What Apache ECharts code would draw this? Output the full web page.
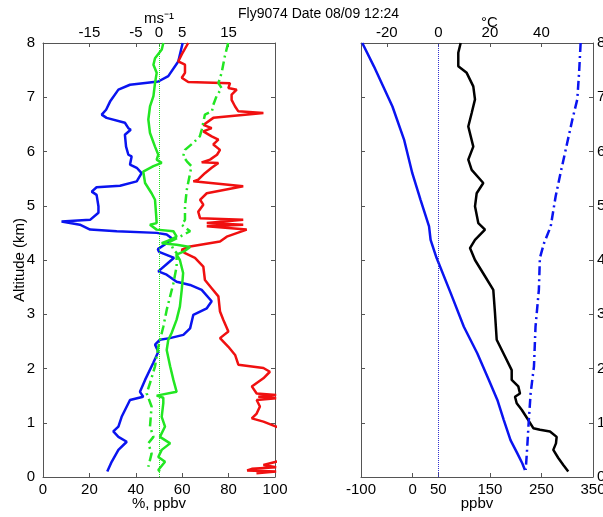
<!DOCTYPE html>
<html>
<head>
<meta charset="utf-8">
<script src="https://cdn.jsdelivr.net/npm/echarts@6/dist/echarts.min.js"></script>
<style>
  html, body { margin: 0; padding: 0; background: #fff; }
  #chart { width: 603px; height: 517px; }
</style>
</head>
<body>
<div id="chart"></div>
<script>
// 左图：相对湿度 %（蓝）、臭氧 ppbv（红）
const rhAlt = [8.0, 7.66, 7.39, 7.29, 7.23, 7.14, 6.92, 6.77, 6.68, 6.62, 6.53, 6.43, 6.40, 6.31, 6.09, 5.94, 5.91, 5.76, 5.70, 5.60, 5.45, 5.37, 5.34, 5.26, 5.20, 4.99, 4.87, 4.74, 4.71, 4.65, 4.56, 4.53, 4.50, 4.47, 4.40, 4.30, 4.20, 4.15, 4.04, 3.95, 3.79, 3.73, 3.60, 3.54, 3.45, 3.24, 3.11, 2.99, 2.74, 2.62, 2.56, 2.53, 2.44, 2.31, 2.10, 1.79, 1.57, 1.48, 1.42, 1.11, 0.93, 0.84, 0.74, 0.65, 0.50, 0.28, 0.10];
const rhVal = [60.2, 58.3, 54.0, 49.7, 37.5, 32.5, 28.9, 27.2, 25.3, 27.4, 35.3, 36.8, 37.8, 35.3, 35.8, 36.8, 38.2, 37.5, 40.4, 42.5, 40.4, 33.2, 23.1, 21.0, 23.1, 23.9, 23.9, 20.3, 8.0, 15.9, 20.3, 31.8, 49.0, 53.3, 55.5, 53.0, 49.5, 50.0, 56.5, 54.0, 49.7, 53.3, 57.6, 63.4, 68.4, 72.7, 70.6, 64.8, 63.4, 60.5, 54.7, 50.4, 48.3, 49.7, 47.5, 44.0, 41.8, 43.2, 37.5, 33.9, 32.5, 30.3, 32.5, 36.1, 32.5, 29.6, 27.7];

const o3Alt = [8.0, 7.79, 7.66, 7.60, 7.45, 7.36, 7.28, 7.26, 7.17, 7.14, 7.05, 6.95, 6.83, 6.74, 6.71, 6.62, 6.49, 6.43, 6.37, 6.28, 6.22, 6.13, 6.03, 5.94, 5.85, 5.80, 5.79, 5.70, 5.60, 5.48, 5.45, 5.36, 5.23, 5.11, 5.02, 4.89, 4.77, 4.74, 4.68, 4.65, 4.62, 4.56, 4.43, 4.34, 4.25, 4.19, 4.13, 4.04, 3.88, 3.63, 3.48, 3.33, 3.05, 2.90, 2.68, 2.56, 2.40, 2.25, 2.07, 2.01, 1.94, 1.82, 1.67, 1.54, 1.51, 1.48, 1.45, 1.42, 1.30, 1.17, 1.08, 1.02, 0.93, 0.85, 0.60, 0.40, 0.28, 0.22, 0.18, 0.15, 0.12, 0.10, 0.07];
const o3Val = [62.6, 59.8, 58.3, 61.2, 61.2, 59.8, 62.6, 80.6, 79.9, 83.5, 81.3, 81.3, 82.8, 84.2, 95.0, 73.4, 69.1, 72.7, 69.1, 72.7, 75.6, 73.4, 76.3, 75.0, 72.0, 68.4, 75.6, 72.7, 69.8, 66.9, 64.8, 86.3, 70.6, 67.7, 69.1, 66.9, 67.7, 86.3, 70.6, 86.3, 70.6, 87.8, 79.2, 76.3, 63.4, 59.8, 61.0, 65.5, 69.1, 69.8, 72.7, 75.6, 76.3, 77.7, 79.9, 76.3, 79.9, 82.8, 84.2, 95.0, 97.8, 95.0, 90.0, 92.1, 100.5, 92.8, 100.5, 92.1, 93.5, 92.1, 90.0, 95.0, 100.5, 106, 110, 106, 100.5, 95, 100.5, 90, 88, 100.5, 92];

// 风速 ms-1（绿色实线 / 点划线），画在上方坐标轴
const uAlt = [8.0, 7.88, 7.72, 7.60, 7.45, 7.26, 7.02, 6.83, 6.59, 6.34, 6.09, 5.94, 5.85, 5.79, 5.73, 5.63, 5.42, 5.23, 5.11, 4.87, 4.68, 4.65, 4.56, 4.53, 4.43, 4.37, 4.31, 4.28, 4.24, 4.17, 4.10, 4.00, 3.76, 3.45, 3.14, 2.90, 2.65, 2.53, 2.34, 2.04, 1.79, 1.57, 1.50, 1.46, 1.36, 1.11, 0.93, 0.74, 0.62, 0.50, 0.37, 0.28, 0.13, 0.10];
const uVal = [0.93, 0.6, -0.86, -1.2, -0.5, -0.86, -1.2, -1.94, -2.3, -1.94, -0.86, -0.15, -0.5, 0.58, -1.2, -3.4, -3.0, -1.6, -0.86, -0.65, -0.5, -1.94, -0.5, 3.1, 3.8, 2.4, 0.58, 3.8, 6.7, 5.6, 3.8, 4.5, 5.2, 4.9, 4.5, 3.8, 2.7, 2.0, 1.66, 2.4, 3.1, 3.8, -0.5, 0.93, 0.93, 0.58, 1.3, 0.2, 2.4, 0.58, -0.15, 1.3, -0.15, 0.2];

const vAlt = [8.0, 7.76, 7.45, 7.26, 7.17, 7.02, 6.86, 6.74, 6.68, 6.40, 6.28, 6.16, 6.03, 5.91, 5.82, 5.73, 5.60, 5.30, 4.99, 4.74, 4.65, 4.53, 4.43, 4.34, 4.19, 4.13, 3.88, 3.57, 3.33, 3.08, 2.77, 2.40, 2.04, 1.73, 1.54, 1.30, 0.93, 0.74, 0.62, 0.43, 0.19];
const vVal = [14.9, 14.2, 13.5, 12.8, 13.5, 12.4, 11.7, 11.4, 9.9, 9.2, 8.8, 7.4, 5.6, 5.2, 6.0, 7.0, 6.7, 6.0, 5.6, 5.6, 4.9, 6.7, 4.5, 2.4, 3.1, 3.8, 3.8, 3.1, 2.4, 1.66, 0.93, -0.15, -0.86, -1.94, -2.65, -1.6, -1.94, -1.2, -2.3, -1.6, -2.3];

// 右图：温度、位温 ºC（蓝），CO ppbv（黑）
const tAlt = [8.0, 7.57, 6.83, 6.22, 5.60, 5.11, 4.62, 4.37, 4.04, 3.39, 2.77, 2.28, 1.79, 1.42, 1.05, 0.68, 0.44, 0.25, 0.13];
const tVal = [-29.5, -25.0, -17.8, -13.3, -10.1, -6.9, -3.6, -3.0, -0.7, 4.8, 9.9, 15.1, 19.6, 22.9, 25.4, 28.0, 30.6, 32.6, 33.6];

const thetaAlt = [8.0, 7.45, 6.96, 6.59, 6.16, 5.60, 5.17, 4.62, 4.31, 4.04, 3.45, 2.77, 2.04, 1.54, 1.05, 0.56, 0.13];
const thetaVal = [55.2, 54.6, 53.9, 52.0, 50.0, 47.4, 45.5, 43.6, 41.0, 39.4, 39.0, 37.7, 37.1, 35.8, 35.1, 34.5, 33.9];

const coAlt = [8.0, 7.82, 7.57, 7.45, 7.20, 6.96, 6.71, 6.46, 6.09, 5.85, 5.66, 5.42, 5.23, 4.99, 4.68, 4.56, 4.37, 4.22, 4.00, 3.70, 3.45, 3.02, 2.53, 2.22, 1.97, 1.79, 1.67, 1.54, 1.48, 1.36, 1.24, 1.05, 0.90, 0.87, 0.84, 0.74, 0.62, 0.50, 0.35, 0.22, 0.10];
const coVal = [93.3, 88.7, 88.7, 105, 117.8, 121.1, 114.7, 108.1, 117.8, 108.1, 114.7, 137.2, 124.4, 121.1, 127.5, 140.5, 121.1, 111.4, 121.1, 140.5, 156.6, 159.9, 163.2, 179.3, 192.3, 192.3, 205.1, 208.4, 198.7, 202, 211.7, 224.5, 234.2, 247.2, 266.6, 279.5, 278.2, 273, 282.7, 292.4, 302];

// 坐标轴刻度
const pctTicks = [0, 20, 40, 60, 80, 100];
const windTicks = [-15, -5, 0, 5, 15];
const ppbvTicks = [-100, 0, 50, 150, 250, 350];
const degTicks = [-20, 0, 20, 40];

const FONT = "'Liberation Sans', Arial, sans-serif";
const AXIS_COLOR = '#555';

const pairs = (vals, alts) => vals.map((v, i) => [v, alts[i]]);

const baseAxis = (extra) => Object.assign({
  type: 'value',
  splitLine: { show: false },
  nameMoveOverlap: false,
  axisLine: { show: true, onZero: false, lineStyle: { color: AXIS_COLOR, width: 1 } },
  axisTick: { show: true, inside: true, length: 4, lineStyle: { color: AXIS_COLOR } },
  axisLabel: { color: '#000', fontSize: 15, fontFamily: FONT },
  nameTextStyle: { color: '#000', fontSize: 15, fontFamily: FONT }
}, extra);

const withCustom = (ax, ticks, margin) => {
  ax.axisTick = Object.assign({}, ax.axisTick, { customValues: ticks });
  ax.axisLabel = Object.assign({}, ax.axisLabel, { customValues: ticks, margin: margin });
  return ax;
};

const altAxis = (grid, pos, labels, extra) => baseAxis(Object.assign({
  gridIndex: grid, position: pos, min: 0, max: 8, interval: 1,
  axisLabel: { show: labels, color: '#000', fontSize: 15, fontFamily: FONT, margin: pos === 'left' ? 8 : 4 }
}, extra));

const profile = (name, data, xIdx, yIdx, color, dash, extra) => Object.assign({
  name: name,
  type: 'line',
  xAxisIndex: xIdx,
  yAxisIndex: yIdx,
  data: data,
  symbol: 'none',
  clip: true,
  lineStyle: { color: color, width: 2.5, type: dash || 'solid' }
}, extra);

const chart = echarts.init(document.getElementById('chart'));

const option = {
  animation: false,
  title: {
    text: 'Fly9074 Date 08/09 12:24',
    left: 233, top: 2,
    textStyle: { fontSize: 14, fontWeight: 'normal', color: '#000', fontFamily: FONT }
  },
  grid: [
    { left: 43, top: 43, width: 232, height: 434, outerBoundsMode: 'none', containLabel: false },
    { left: 361, top: 43, width: 232, height: 434, outerBoundsMode: 'none', containLabel: false }
  ],
  xAxis: [
    withCustom(baseAxis({ gridIndex: 0, position: 'bottom', min: 0, max: 100,
      name: '%, ppbv', nameLocation: 'middle', nameGap: 19 }), pctTicks, 5),
    withCustom(baseAxis({ gridIndex: 0, position: 'top', min: -25, max: 25,
      name: 'ms⁻¹', nameLocation: 'middle', nameGap: 17 }), windTicks, 3),
    withCustom(baseAxis({ gridIndex: 1, position: 'bottom', min: -100, max: 350,
      name: 'ppbv', nameLocation: 'middle', nameGap: 19 }), ppbvTicks, 5),
    withCustom(baseAxis({ gridIndex: 1, position: 'top', min: -30, max: 60 }), degTicks, 3)
  ],
  yAxis: [
    altAxis(0, 'left', true, { name: 'Altitude (km)', nameLocation: 'middle', nameGap: 16 }),
    altAxis(0, 'right', false),
    altAxis(1, 'left', false),
    altAxis(1, 'right', true)
  ],
  graphic: [
    { type: 'text', left: 481, top: 15,
      style: { text: '°C', fontSize: 15, fontFamily: FONT, fill: '#000' } }
  ],
  series: [
    profile('RH', pairs(rhVal, rhAlt), 0, 0, '#0a14f0'),
    profile('O3', pairs(o3Val, o3Alt), 0, 0, '#f01010'),
    profile('u', pairs(uVal, uAlt), 1, 0, '#22e622', 'solid', {
      markLine: {
        silent: true, symbol: 'none', label: { show: false },
        lineStyle: { color: '#22e622', type: 'dotted', width: 1 },
        data: [{ xAxis: 0 }]
      }
    }),
    profile('v', pairs(vVal, vAlt), 1, 0, '#22e622', [9, 4, 2, 4]),
    profile('CO', pairs(coVal, coAlt), 2, 2, '#000', 'solid', {
      markLine: {
        silent: true, symbol: 'none', label: { show: false },
        lineStyle: { color: '#3030d0', type: 'dotted', width: 1 },
        data: [{ xAxis: 50 }]
      }
    }),
    profile('T', pairs(tVal, tAlt), 3, 2, '#0a14f0'),
    profile('Theta', pairs(thetaVal, thetaAlt), 3, 2, '#0a14f0', [9, 4, 2, 4])
  ]
};

chart.setOption(option);
window.addEventListener('resize', () => chart.resize());
</script>
</body>
</html>
